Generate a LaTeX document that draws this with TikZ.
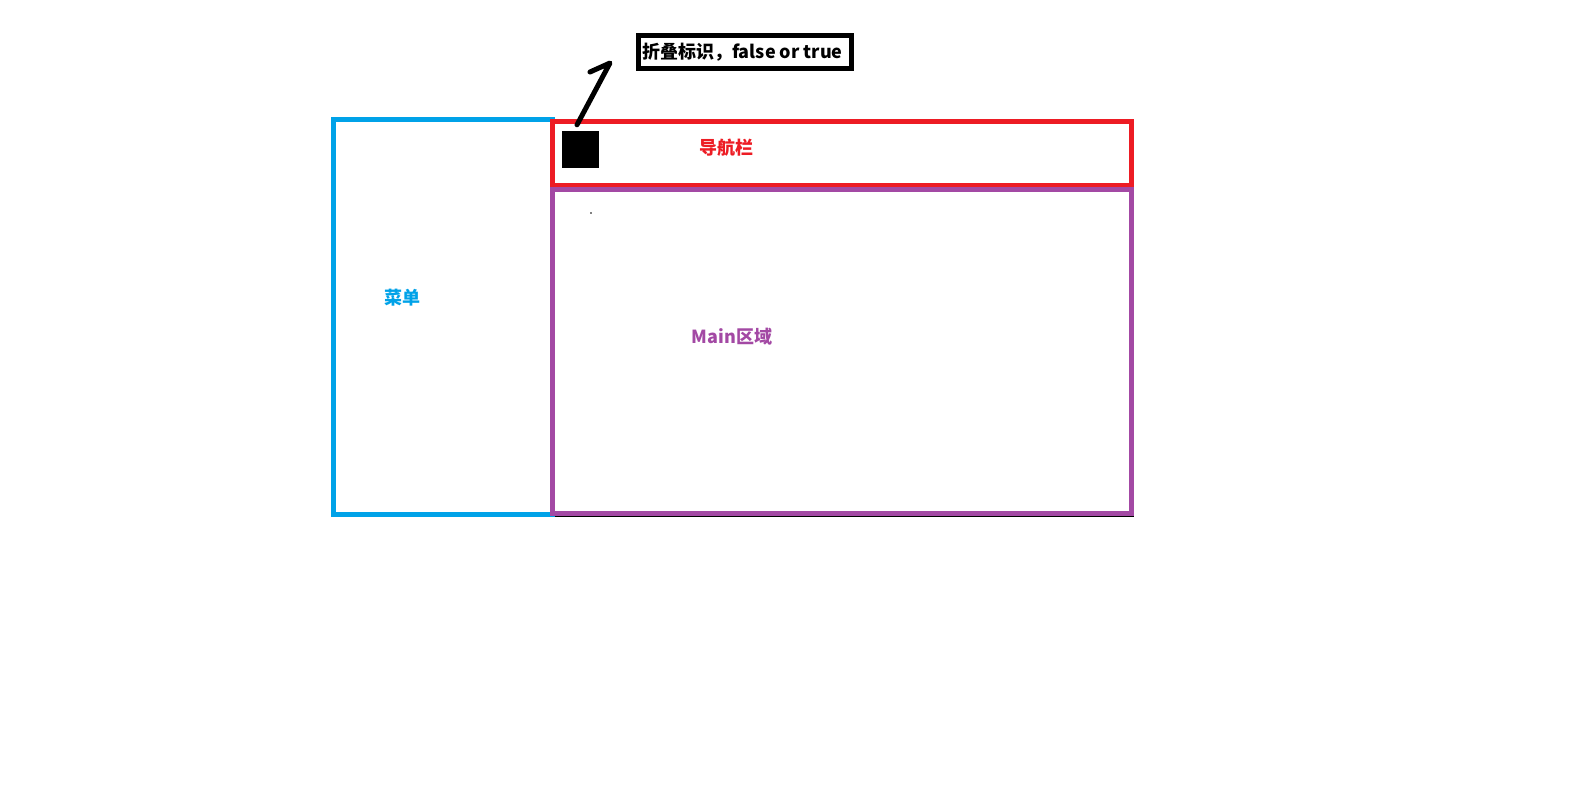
\documentclass[tikz,border=0pt]{standalone}
\usepackage{fontspec}
\newfontfamily\cjk{Noto Sans CJK SC}
\usetikzlibrary{positioning}

\definecolor{paintblue}{RGB}{0,162,232}
\definecolor{paintred}{RGB}{237,28,36}
\definecolor{paintpurple}{RGB}{163,73,164}

\begin{document}
\begin{tikzpicture}[
    x=1pt, y=-1pt,
    panel/.style={rectangle, draw, line width=5pt, inner sep=0pt},
    frame/.style={rectangle, draw=black, line width=1.5pt, inner sep=0pt},
    tag/.style={font=\cjk\bfseries\fontsize{18}{22}\selectfont, inner sep=0pt},
    stroke/.style={line width=5pt, line cap=round, line join=round}
]

% page
\fill[white] (0,0) rectangle (1596,787);
\useasboundingbox (0,0) rectangle (1596,787);

% Outer frame
\node[frame, minimum width=799.5, minimum height=396.5] (frame) at (733.75,318.25) {};

% Menu
\node[panel, draw=paintblue, minimum width=219, minimum height=394.5] (menu) at (443,316.75) {};

% Navigation bar
\node[panel, draw=paintred, minimum width=578.5, minimum height=64] (nav) at (841.75,153.5) {};

% Main area
\node[panel, draw=paintpurple, minimum width=578.5, minimum height=324] (main) at (841.75,351.5) {};

% Collapse toggle
\node[rectangle, fill=black, minimum size=37, inner sep=0pt] (toggle) at (580,149.5) {};

% Note box
\node[panel, draw=black, minimum width=213, minimum height=33] (flag) at (745,52) {};
\node[tag, anchor=west] (flagtext) at (642,52) {折叠标识，false or true};

% Labels
\node[tag, text=paintblue] (menutext) at (402,298) {菜单};
\node[tag, text=paintred] (navtext) at (726,148) {导航栏};
\node[tag, text=paintpurple] (maintext) at (732,337) {Main区域};

% speck
\fill (591,213) circle (0.8);

% Hand-drawn pointer
\coordinate (tip) at (610,63);
\coordinate (hook) at (590,72);
\draw[stroke] ([xshift=-3pt,yshift=6pt]toggle.north) -- (tip) -- (hook);

\end{tikzpicture}
\end{document}
